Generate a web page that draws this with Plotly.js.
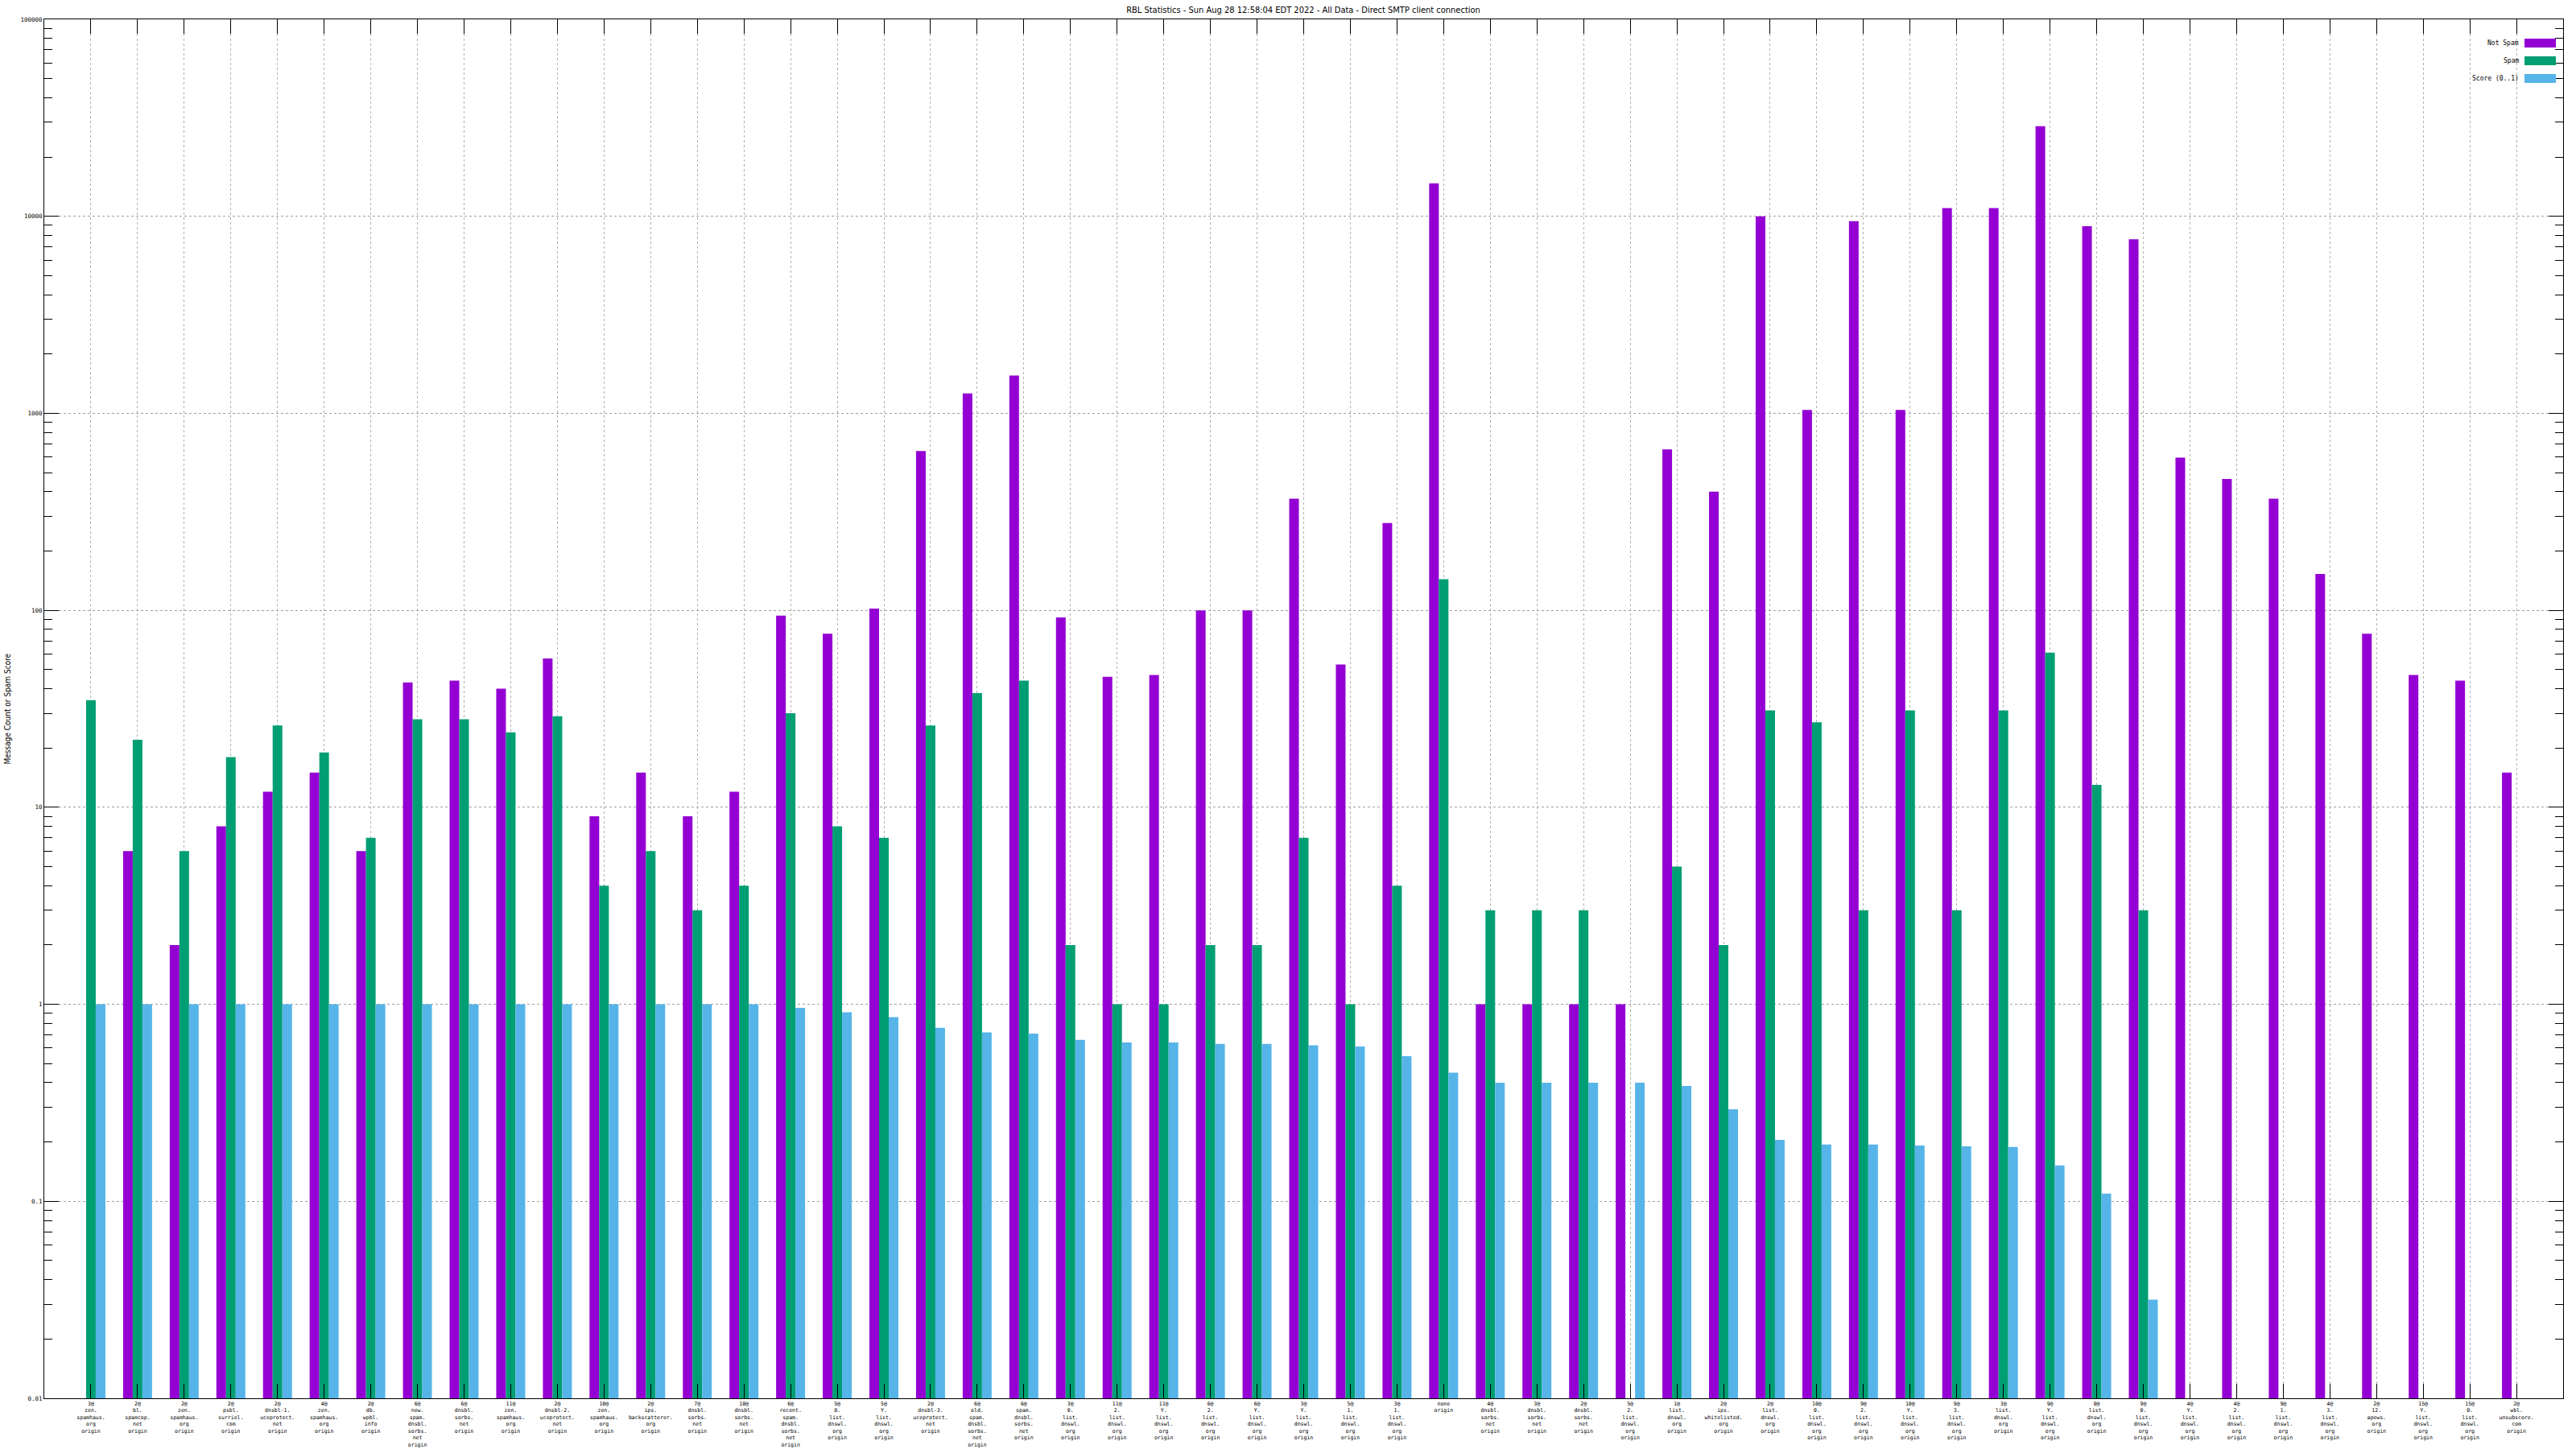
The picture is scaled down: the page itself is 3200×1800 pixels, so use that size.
<!DOCTYPE html>
<html><head><meta charset="utf-8">
<script src="https://cdn.plot.ly/plotly-3.0.1.min.js"></script>
<style>html,body{margin:0;padding:0;background:#fff}</style>
</head><body><div id="chart" style="width:3200px;height:1800px"></div>
<script>
const categories = [
"3@<br>zen.<br>spamhaus.<br>org<br>origin",
"2@<br>bl.<br>spamcop.<br>net<br>origin",
"2@<br>zen.<br>spamhaus.<br>org<br>origin",
"2@<br>psbl.<br>surriel.<br>com<br>origin",
"2@<br>dnsbl-1.<br>uceprotect.<br>net<br>origin",
"4@<br>zen.<br>spamhaus.<br>org<br>origin",
"2@<br>db.<br>wpbl.<br>info<br>origin",
"6@<br>new.<br>spam.<br>dnsbl.<br>sorbs.<br>net<br>origin",
"6@<br>dnsbl.<br>sorbs.<br>net<br>origin",
"11@<br>zen.<br>spamhaus.<br>org<br>origin",
"2@<br>dnsbl-2.<br>uceprotect.<br>net<br>origin",
"10@<br>zen.<br>spamhaus.<br>org<br>origin",
"2@<br>ips.<br>backscatterer.<br>org<br>origin",
"7@<br>dnsbl.<br>sorbs.<br>net<br>origin",
"10@<br>dnsbl.<br>sorbs.<br>net<br>origin",
"6@<br>recent.<br>spam.<br>dnsbl.<br>sorbs.<br>net<br>origin",
"5@<br>0.<br>list.<br>dnswl.<br>org<br>origin",
"5@<br>Y.<br>list.<br>dnswl.<br>org<br>origin",
"2@<br>dnsbl-3.<br>uceprotect.<br>net<br>origin",
"6@<br>old.<br>spam.<br>dnsbl.<br>sorbs.<br>net<br>origin",
"6@<br>spam.<br>dnsbl.<br>sorbs.<br>net<br>origin",
"3@<br>0.<br>list.<br>dnswl.<br>org<br>origin",
"11@<br>2.<br>list.<br>dnswl.<br>org<br>origin",
"11@<br>Y.<br>list.<br>dnswl.<br>org<br>origin",
"6@<br>2.<br>list.<br>dnswl.<br>org<br>origin",
"6@<br>Y.<br>list.<br>dnswl.<br>org<br>origin",
"3@<br>Y.<br>list.<br>dnswl.<br>org<br>origin",
"5@<br>1.<br>list.<br>dnswl.<br>org<br>origin",
"3@<br>1.<br>list.<br>dnswl.<br>org<br>origin",
"none<br>origin",
"4@<br>dnsbl.<br>sorbs.<br>net<br>origin",
"3@<br>dnsbl.<br>sorbs.<br>net<br>origin",
"2@<br>dnsbl.<br>sorbs.<br>net<br>origin",
"5@<br>2.<br>list.<br>dnswl.<br>org<br>origin",
"1@<br>list.<br>dnswl.<br>org<br>origin",
"2@<br>ips.<br>whitelisted.<br>org<br>origin",
"2@<br>list.<br>dnswl.<br>org<br>origin",
"10@<br>0.<br>list.<br>dnswl.<br>org<br>origin",
"9@<br>2.<br>list.<br>dnswl.<br>org<br>origin",
"10@<br>Y.<br>list.<br>dnswl.<br>org<br>origin",
"9@<br>3.<br>list.<br>dnswl.<br>org<br>origin",
"3@<br>list.<br>dnswl.<br>org<br>origin",
"9@<br>Y.<br>list.<br>dnswl.<br>org<br>origin",
"0@<br>list.<br>dnswl.<br>org<br>origin",
"9@<br>0.<br>list.<br>dnswl.<br>org<br>origin",
"4@<br>Y.<br>list.<br>dnswl.<br>org<br>origin",
"4@<br>2.<br>list.<br>dnswl.<br>org<br>origin",
"9@<br>1.<br>list.<br>dnswl.<br>org<br>origin",
"4@<br>3.<br>list.<br>dnswl.<br>org<br>origin",
"2@<br>12.<br>apews.<br>org<br>origin",
"15@<br>Y.<br>list.<br>dnswl.<br>org<br>origin",
"15@<br>0.<br>list.<br>dnswl.<br>org<br>origin",
"2@<br>wbl.<br>unsubscore.<br>com<br>origin"
];

const notSpam = [null, 6, 2, 8, 12, 15, 6, 43, 44, 40,
  57, 9, 15, 9, 12, 94, 76, 102, 643, 1260,
  1555, 92, 46, 47, 100, 100, 369, 53, 277, 14700,
  1, 1, 1, 1, 656, 400, 10000, 1040, 9440, 1040,
  11000, 11000, 28700, 8900, 7650, 595, 464, 369, 153, 76,
  47, 44, 15];

const spam = [35, 22, 6, 18, 26, 19, 7, 28, 28, 24,
  29, 4, 6, 3, 4, 30, 8, 7, 26, 38,
  44, 2, 1, 1, 2, 2, 7, 1, 4, 144,
  3, 3, 3, null, 5, 2, 31, 27, 3, 31,
  3, 31, 61, 13, 3, null, null, null, null, null,
  null, null, null];

const score = [1, 1, 1, 1, 1, 1, 1, 1, 1, 1,
  1, 1, 1, 1, 1, 0.96, 0.91, 0.86, 0.76, 0.72,
  0.71, 0.66, 0.64, 0.64, 0.63, 0.63, 0.62, 0.61, 0.545, 0.45,
  0.40, 0.40, 0.40, 0.40, 0.385, 0.293, 0.205, 0.194, 0.194, 0.192,
  0.19, 0.189, 0.152, 0.1095, 0.0317, null, null, null, null, null,
  null, null, null];

const seriesNames = ["Not Spam", "Spam", "Score (0..1)"];
const seriesColors = ["#9400D3", "#009E73", "#56B4E9"];

const yTickVals = [0.01, 0.1, 1, 10, 100, 1000, 10000, 100000];
const yTickText = ["0.01", "0.1", "1", "10", "100", "1000", "10000", "100000"];

const titleText = "RBL Statistics - Sun Aug 28 12:58:04 EDT 2022 - All Data - Direct SMTP client connection";
const yTitleText = "Message Count or Spam Score";

// layout geometry (pixels)
const W = 3200, H = 1800;
const mL = 55, mR = 16, mT = 24, mB = 63;
const PW = W - mL - mR, PH = H - mT - mB;
const px2x = p => (p - mL) / PW;
const px2y = p => 1 - (p - mT) / PH;

const minorVals = [];
for (let e = -2; e < 5; e++) {
  for (let m = 2; m <= 9; m++) minorVals.push(m * Math.pow(10, e));
}

const monoFont = "DejaVu Sans Mono, Liberation Mono, monospace";
const condFont = "DejaVu Sans Condensed, Liberation Sans Narrow, DejaVu Sans, sans-serif";

const allSeries = [notSpam, spam, score];
const traces = allSeries.map((vals, i) => ({
  type: "bar",
  name: seriesNames[i],
  x: categories,
  y: vals,
  marker: {color: seriesColors[i], line: {width: 0}},
  showlegend: false,
  hoverinfo: "x+y"
}));

// manual legend (text left, colour sample right), like the original
const annotations = [];
const shapes = [];
const rowCenters = [53.5, 75.5, 97.5];
seriesNames.forEach((name, i) => {
  annotations.push({
    xref: "paper", yref: "paper",
    x: px2x(3131), y: px2y(rowCenters[i]),
    xanchor: "right", yanchor: "middle",
    text: name, showarrow: false,
    font: {family: monoFont, size: 8, color: "#000"}
  });
  shapes.push({
    type: "rect", xref: "paper", yref: "paper",
    x0: px2x(3136), x1: px2x(3175),
    y0: px2y(rowCenters[i] - 5.5), y1: px2y(rowCenters[i] + 5.5),
    fillcolor: seriesColors[i], line: {width: 0}
  });
});
annotations.push({
  xref: "paper", yref: "paper",
  x: px2x(9), y: 0.5,
  xanchor: "center", yanchor: "middle",
  textangle: -90, text: yTitleText, showarrow: false,
  font: {family: condFont, size: 10, color: "#000"}
});

const layout = {
  width: W, height: H,
  paper_bgcolor: "#fff", plot_bgcolor: "#fff",
  margin: {l: mL, r: mR, t: mT, b: mB, pad: 0},
  barmode: "group",
  bargap: 0.379,
  bargroupgap: 0,
  showlegend: false,
  title: {
    text: titleText,
    font: {family: condFont, size: 11, color: "#000"},
    x: 1619 / W, xref: "container", xanchor: "center",
    y: 1 - 12 / H, yref: "container", yanchor: "middle"
  },
  xaxis: {
    type: "category",
    range: [-1, categories.length],
    showline: true, linecolor: "#000", linewidth: 1, mirror: "ticks",
    ticks: "inside", ticklen: 18, tickcolor: "#000", tickwidth: 1,
    showgrid: true, gridcolor: "#b0b0b0", griddash: "dot", gridwidth: 1,
    tickfont: {family: monoFont, size: 6.5, color: "#000"},
    tickangle: 0,
    zeroline: false,
    automargin: false,
    fixedrange: true
  },
  yaxis: {
    type: "log",
    range: [-2, 5],
    showline: true, linecolor: "#000", linewidth: 1, mirror: "ticks",
    ticks: "inside", ticklen: 18, tickcolor: "#000", tickwidth: 1,
    tickmode: "array", tickvals: yTickVals, ticktext: yTickText,
    tickfont: {family: monoFont, size: 7.5, color: "#000"},
    showgrid: true, gridcolor: "#a0a0a0", griddash: "dot", gridwidth: 1,
    minor: {
      tickmode: "array", tickvals: minorVals,
      ticks: "inside", ticklen: 10, tickcolor: "#000", tickwidth: 1,
      showgrid: false
    },
    zeroline: false,
    automargin: false,
    fixedrange: true
  },
  annotations: annotations,
  shapes: shapes
};

Plotly.newPlot("chart", traces, layout, {displayModeBar: false, staticPlot: true});
</script>
</body></html>
